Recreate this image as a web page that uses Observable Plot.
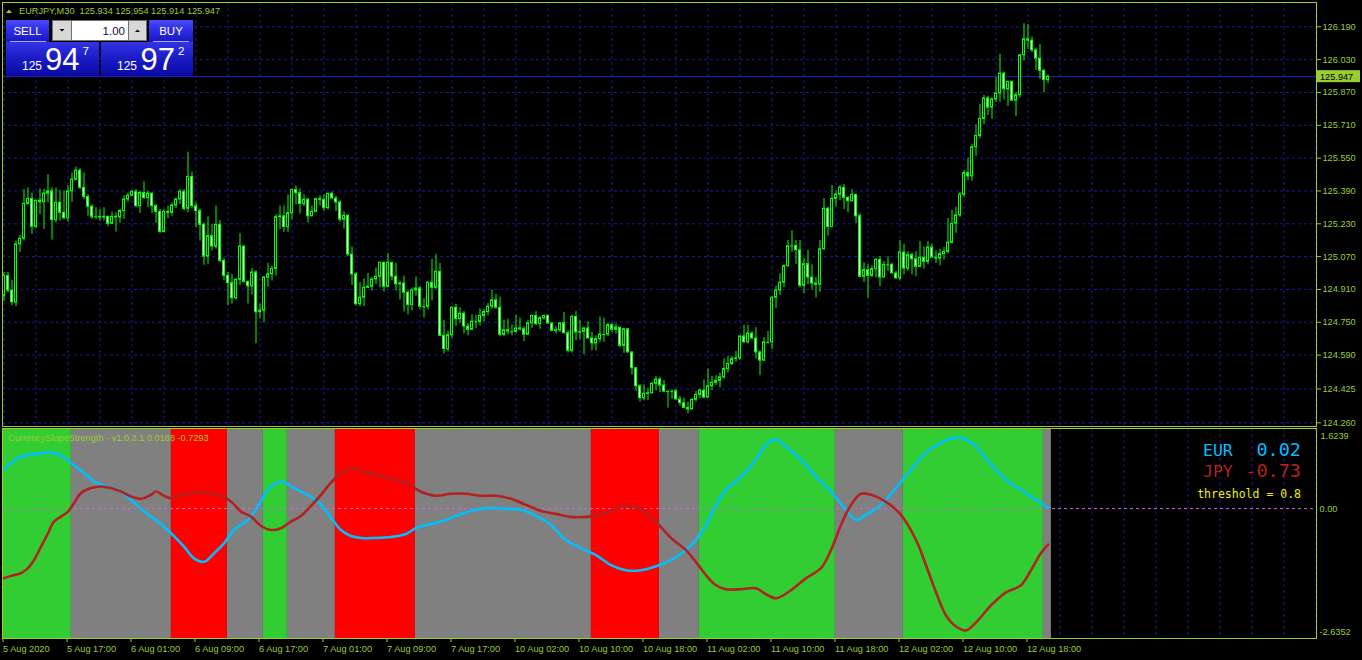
<!DOCTYPE html>
<html><head><meta charset="utf-8">
<script src="https://cdn.jsdelivr.net/npm/d3@7"></script>
<script src="https://cdn.jsdelivr.net/npm/@observablehq/plot@0.6"></script>
<style>
body{margin:0;background:#000;}
#wrap{position:relative;width:1362px;height:660px;background:#000;overflow:hidden;}
#top,#bot{position:absolute;left:0;}
#top{top:0}
#bot{top:427px}
</style></head><body><div id="wrap"><div id="top"></div><div id="bot"></div></div>
<script>
// ---------- DATA ----------
const symbol = "EURJPY,M30";
const ohlcNow = ["125.934", "125.954", "125.914", "125.947"];
const firstOpen = 124.879;
const closes = [
124.976,124.904,124.847,125.130,125.157,125.327,125.351,125.215,125.343,125.335,
125.377,125.388,125.248,125.332,125.283,125.257,125.388,125.445,125.489,125.405,
125.361,125.313,125.264,125.264,125.261,125.264,125.230,125.264,125.261,125.292,
125.348,125.367,125.385,125.316,125.380,125.355,125.377,125.316,125.288,125.190,
125.288,125.283,125.319,125.348,125.385,125.303,125.458,125.316,125.292,125.225,
125.070,125.170,125.119,125.225,125.049,124.976,124.941,124.867,124.957,125.119,
124.947,124.925,124.993,124.799,124.807,124.968,124.984,125.010,125.262,125.266,
125.214,125.282,125.395,125.379,125.326,125.347,125.266,125.288,125.350,125.347,
125.306,125.376,125.353,125.334,125.250,125.269,125.080,124.983,124.838,124.870,
124.918,124.923,124.959,124.972,125.040,124.923,125.040,124.972,124.935,124.939,
124.894,124.834,124.905,124.915,124.826,124.826,124.943,124.918,124.996,124.684,
124.619,124.687,124.821,124.765,124.792,124.729,124.713,124.753,124.752,124.781,
124.800,124.826,124.857,124.821,124.689,124.711,124.705,124.703,124.720,124.716,
124.689,124.745,124.781,124.741,124.770,124.781,124.744,124.708,124.711,124.745,
124.697,124.611,124.776,124.700,124.703,124.720,124.671,124.647,124.668,124.690,
124.690,124.736,124.713,124.724,124.635,124.716,124.603,124.526,124.438,124.380,
124.401,124.404,124.450,124.471,124.442,124.412,124.412,124.414,124.374,124.356,
124.333,124.325,124.372,124.396,124.417,124.383,124.438,124.455,124.464,124.482,
124.522,124.547,124.571,124.574,124.681,124.652,124.695,124.671,124.603,124.563,
124.652,124.652,124.870,124.905,124.943,125.023,125.120,125.122,125.101,124.928,
125.033,124.968,124.939,124.933,125.106,125.303,125.214,125.351,125.372,125.405,
125.356,125.340,125.371,125.267,124.972,125.004,124.976,125.009,125.054,124.968,
125.030,125.030,124.988,124.964,125.090,125.012,125.077,125.057,125.020,125.065,
125.044,125.114,125.065,125.061,125.082,125.093,125.138,125.230,125.271,125.372,
125.477,125.461,125.603,125.658,125.741,125.841,125.796,125.836,125.865,125.962,
125.885,125.922,125.830,125.857,126.051,126.129,126.122,126.075,126.035,125.975,
125.930,125.947];
const highs = [
124.993,124.993,124.955,125.146,125.173,125.397,125.405,125.380,125.343,125.400,
125.397,125.469,125.405,125.405,125.392,125.389,125.416,125.477,125.506,125.498,
125.477,125.372,125.324,125.308,125.300,125.308,125.267,125.287,125.283,125.300,
125.367,125.380,125.393,125.397,125.389,125.435,125.389,125.380,125.324,125.300,
125.300,125.316,125.332,125.356,125.397,125.397,125.579,125.482,125.332,125.300,
125.235,125.264,125.227,125.316,125.246,125.060,124.993,124.984,124.963,125.183,
125.125,124.952,125.012,125.001,124.839,124.973,125.038,125.023,125.274,125.317,
125.317,125.371,125.398,125.414,125.400,125.371,125.355,125.317,125.355,125.366,
125.371,125.379,125.385,125.363,125.343,125.288,125.274,125.117,124.994,124.943,
124.962,124.988,124.967,125.015,125.043,125.043,125.085,125.040,125.036,124.951,
124.975,124.907,124.918,124.970,124.923,124.865,124.947,125.056,125.080,125.036,
124.760,124.707,124.825,124.838,124.821,124.802,124.745,124.786,124.784,124.816,
124.813,124.841,124.907,124.886,124.873,124.760,124.765,124.736,124.784,124.770,
124.729,124.760,124.786,124.802,124.778,124.786,124.786,124.749,124.729,124.745,
124.797,124.708,124.784,124.802,124.760,124.724,124.753,124.700,124.684,124.775,
124.770,124.745,124.745,124.741,124.724,124.721,124.713,124.606,124.529,124.445,
124.445,124.429,124.458,124.487,124.482,124.466,124.417,124.421,124.422,124.388,
124.380,124.361,124.377,124.413,124.425,124.469,124.522,124.487,124.490,124.503,
124.571,124.584,124.584,124.608,124.684,124.736,124.736,124.703,124.724,124.611,
124.676,124.705,124.873,124.926,124.986,125.031,125.149,125.196,125.148,125.149,
125.062,125.101,125.030,124.968,125.149,125.353,125.311,125.416,125.389,125.416,
125.421,125.364,125.397,125.372,125.279,125.041,125.033,125.025,125.062,125.070,
125.046,125.069,125.038,124.999,125.149,125.130,125.094,125.086,125.094,125.143,
125.117,125.143,125.130,125.098,125.106,125.114,125.256,125.295,125.311,125.384,
125.489,125.550,125.618,125.712,125.812,125.857,125.852,125.844,125.943,126.056,
125.970,125.925,125.925,125.870,126.056,126.205,126.201,126.140,126.087,126.103,
125.983,125.954];
const lows = [
124.850,124.892,124.831,124.826,125.089,125.146,125.319,125.178,125.206,125.275,
125.203,125.332,125.151,125.235,125.243,125.248,125.238,125.335,125.437,125.397,
125.348,125.267,125.251,125.251,125.243,125.243,125.216,125.227,125.190,125.232,
125.251,125.335,125.361,125.308,125.280,125.348,125.308,125.280,125.232,125.183,
125.186,125.254,125.267,125.303,125.324,125.292,125.283,125.303,125.211,125.146,
125.028,125.033,125.098,125.106,125.041,124.952,124.831,124.839,124.858,124.928,
124.941,124.839,124.883,124.645,124.766,124.747,124.920,124.951,124.975,125.201,
125.188,125.188,125.250,125.322,125.277,125.314,125.233,125.272,125.314,125.317,
125.290,125.298,125.350,125.290,125.237,125.204,125.069,124.930,124.829,124.826,
124.826,124.913,124.902,124.934,124.918,124.897,124.918,124.951,124.902,124.859,
124.800,124.786,124.805,124.878,124.813,124.771,124.810,124.854,124.910,124.679,
124.595,124.606,124.671,124.729,124.745,124.692,124.684,124.713,124.720,124.732,
124.753,124.781,124.813,124.813,124.679,124.679,124.689,124.684,124.697,124.708,
124.655,124.689,124.720,124.732,124.716,124.762,124.741,124.705,124.692,124.700,
124.692,124.600,124.600,124.660,124.665,124.592,124.668,124.611,124.611,124.652,
124.652,124.681,124.700,124.692,124.627,124.598,124.600,124.493,124.413,124.361,
124.369,124.369,124.401,124.417,124.406,124.406,124.332,124.374,124.369,124.341,
124.328,124.304,124.328,124.361,124.377,124.377,124.385,124.417,124.442,124.430,
124.471,124.503,124.539,124.555,124.563,124.648,124.644,124.665,124.571,124.490,
124.558,124.644,124.616,124.818,124.881,124.918,125.020,125.091,125.031,124.917,
124.888,124.933,124.907,124.868,124.896,125.101,125.170,125.211,125.311,125.343,
125.300,125.283,125.337,125.232,124.968,124.944,124.868,124.968,124.965,124.923,
125.004,124.997,124.985,124.960,124.952,124.981,124.999,124.981,124.972,125.017,
125.009,125.030,125.062,125.036,125.025,125.053,125.082,125.130,125.183,125.262,
125.359,125.440,125.437,125.558,125.644,125.712,125.757,125.739,125.822,125.822,
125.833,125.801,125.828,125.752,125.844,126.024,126.080,126.064,125.978,125.935,
125.868,125.914];
const lastPrice = 125.947;
const priceTicks = [126.19,126.03,125.87,125.71,125.55,125.39,125.23,125.07,124.91,124.75,124.59,124.425,124.26];

const timeTickBars = [0,16,32,48,64,80,96,112,128,144,160,176,192,208,224,240,256];
const timeLabels = ["5 Aug 2020","5 Aug 17:00","6 Aug 01:00","6 Aug 09:00","6 Aug 17:00","7 Aug 01:00","7 Aug 09:00","7 Aug 17:00","10 Aug 02:00","10 Aug 10:00","10 Aug 18:00","11 Aug 02:00","11 Aug 10:00","11 Aug 18:00","12 Aug 02:00","12 Aug 10:00","12 Aug 18:00"];

// indicator: CurrencySlopeStrength
const indMax = 1.6239, indMin = -2.6352;
const eurBars = [0,3.5,6.75,10,12.5,14.25,16.75,20,22.5,25,28.5,31.75,35,38.5,41.75,45,47.5,50,52.5,55,57.5,61,63.5,66,69.25,72.5,76.75,79.25,81.75,84.25,86.75,89.25,93,96.75,100.5,103,106.75,110.5,114.25,118,121.75,125.5,129.25,133,136.75,140.5,144.25,148,151.75,155.5,159.25,163,166.75,170.5,173,175.5,178,180.5,184.25,188,190.5,193,195.5,199.25,203,206.75,210.5,213,215.5,219.25,223,226.75,230.5,234.25,238,240.5,243,246.75,250.5,254.25,258,261];
const eurVals = [0.789,1.027,1.094,1.129,1.129,1.074,0.925,0.721,0.550,0.463,0.381,0.177,-0.061,-0.265,-0.501,-0.774,-1.011,-1.080,-0.909,-0.705,-0.434,-0.230,0.041,0.381,0.550,0.416,0.238,0.075,-0.190,-0.434,-0.557,-0.597,-0.597,-0.577,-0.516,-0.393,-0.312,-0.230,-0.108,-0.026,0.014,-0.006,-0.026,-0.149,-0.332,-0.638,-0.801,-0.944,-1.148,-1.250,-1.250,-1.169,-1.045,-0.842,-0.638,-0.332,0.075,0.381,0.646,0.992,1.298,1.400,1.257,0.992,0.646,0.340,-0.026,-0.230,-0.128,0.075,0.422,0.789,1.135,1.339,1.441,1.400,1.257,0.891,0.585,0.381,0.177,0.019];
const jpyBars = [0,1.75,4.25,6,7.5,9.25,11,12.5,14.25,16,17.5,19.25,21.75,24.25,26.75,29.25,31.75,34.25,36.75,38,40,41.75,44.25,48,51.75,54.25,56.75,59.25,61.75,64.25,66.75,69.25,71.75,74.25,76.75,79.25,81.75,84.25,86.75,89.25,93,96.75,100.5,104.25,108,111.75,115.5,119.25,123,126.75,130.5,134.25,138,141.75,145.5,149.25,153,155.5,159.25,163,166.75,170.5,173,175.5,178,180.5,184.25,188,190.5,193,196.75,200.5,204.25,206.75,209.25,211.75,214.25,216.75,220.5,224.25,228,230.5,233,235.5,238,240.5,243,246.75,250.5,254.25,256.75,259.25,261];
const jpyVals = [-1.413,-1.365,-1.310,-1.208,-1.045,-0.774,-0.501,-0.265,-0.163,-0.061,0.110,0.314,0.416,0.448,0.416,0.346,0.245,0.198,0.279,0.346,0.259,0.212,0.279,0.326,0.314,0.259,0.143,-0.061,-0.163,-0.353,-0.434,-0.399,-0.265,-0.149,0.055,0.279,0.524,0.728,0.809,0.768,0.687,0.605,0.524,0.340,0.259,0.300,0.300,0.259,0.259,0.198,0.075,-0.047,-0.108,-0.169,-0.169,-0.128,-0.006,0.055,-0.026,-0.271,-0.597,-0.842,-1.086,-1.351,-1.555,-1.636,-1.636,-1.616,-1.738,-1.820,-1.657,-1.413,-1.208,-0.842,-0.332,0.075,0.300,0.279,0.137,-0.128,-0.638,-1.148,-1.698,-2.166,-2.391,-2.472,-2.309,-1.962,-1.698,-1.555,-1.249,-0.903,-0.730];
const bandStarts = [0,17,42,56,65,71,83,103,147,164,174,208,225,260];
const bandStates = ["buy","neutral","sell","neutral","buy","neutral","sell","neutral","sell","neutral","buy","neutral","buy","neutral"];
const bandEnd = 262;
const threshold = 0.8;
const indName = "CurrencySlopeStrength - v1.0.3.1 0.0188 -0.7293";

// ---------- BUILD ----------
const C = "#9acd32", GRID = "#1a1aa0", LIME = "#00ff00";
const SANS = "'Liberation Sans', Arial, sans-serif";
const MONO = "'DejaVu Sans Mono', monospace";
const xDomain = [-0.375, 328.125];
const gridBars = d3.range(0, 329, 8);

const candles = closes.map((c, i) => {
  const o = i ? closes[i - 1] : firstOpen;
  return {i, o, c, h: Math.max(highs[i], o, c), l: Math.min(lows[i], o, c)};
});
const body = d => ({x1: d => d.i - 0.25, x2: d => d.i + 0.25, y1: "o", y2: "c"});
const bodies = candles.filter(d => Math.abs(d.c - d.o) >= 0.003);
const dojis = candles.filter(d => Math.abs(d.c - d.o) < 0.003);

const plotStyle = {background: "transparent", color: C, fontFamily: SANS, fontSize: "9.2px"};

const topPlot = Plot.plot({
  width: 1362, height: 427,
  marginTop: 2, marginBottom: 1, marginLeft: 2, marginRight: 46,
  x: {domain: xDomain, axis: null},
  y: {domain: [124.2421, 126.3084], label: null},
  style: plotStyle,
  marks: [
    Plot.ruleX(gridBars, {stroke: GRID, strokeDasharray: "3,3"}),
    Plot.ruleY(priceTicks, {stroke: GRID, strokeDasharray: "3,3"}),
    Plot.ruleY([lastPrice], {stroke: "#2222c8"}),
    Plot.ruleX(candles, {x: "i", y1: "l", y2: "h", stroke: LIME}),
    Plot.rect(bodies.filter(d => d.c > d.o), {x1: d => d.i - 0.25, x2: d => d.i + 0.25, y1: "o", y2: "c", fill: "black", stroke: LIME}),
    Plot.rect(bodies.filter(d => d.c < d.o), {x1: d => d.i - 0.25, x2: d => d.i + 0.25, y1: "o", y2: "c", fill: "white", stroke: LIME}),
    Plot.ruleY(dojis, {x1: d => d.i - 0.375, x2: d => d.i + 0.375, y: "c", stroke: LIME}),
    Plot.axisY(priceTicks, {anchor: "right", tickSize: 4, tickPadding: 2, tickFormat: d => d.toFixed(3), label: null}),
    Plot.frame({stroke: C})
  ]
});
document.getElementById("top").append(topPlot);

const bands = bandStarts.map((s, k) => ({start: s, end: k + 1 < bandStarts.length ? bandStarts[k + 1] : bandEnd, state: bandStates[k]}));
const eur = eurBars.map((b, k) => ({i: b, v: eurVals[k]}));
const jpy = jpyBars.map((b, k) => ({i: b, v: jpyVals[k]}));
const labelMap = new Map(timeTickBars.map((b, k) => [b, timeLabels[k]]));

const botPlot = Plot.plot({
  width: 1362, height: 233,
  marginTop: 1, marginBottom: 22, marginLeft: 2, marginRight: 46,
  x: {domain: xDomain, label: null},
  y: {domain: [indMin, indMax], label: null},
  color: {domain: ["buy", "neutral", "sell"], range: ["#32cd32", "#808080", "#ff0000"]},
  style: plotStyle,
  marks: [
    Plot.ruleX(gridBars, {stroke: GRID, strokeDasharray: "3,3"}),
    Plot.rect(bands, {x1: d => d.start - 0.15, x2: d => d.end - 0.15, fill: "state"}),
    Plot.ruleY([0], {stroke: "#c86ad8", strokeDasharray: "3,3"}),
    Plot.line(eur, {x: "i", y: "v", stroke: "#00bfff", strokeWidth: 2.6, curve: "catmull-rom"}),
    Plot.line(jpy, {x: "i", y: "v", stroke: "#b22222", strokeWidth: 2.6, curve: "catmull-rom"}),
    Plot.axisX(timeTickBars, {tickSize: 4, tickPadding: 3, textAnchor: "start", dx: -1, tickFormat: d => labelMap.get(d), label: null}),
    Plot.axisY([0], {anchor: "right", tickSize: 0, tickPadding: 3, tickFormat: d => d.toFixed(2), label: null}),
    Plot.text([indMax], {x: () => xDomain[1], y: d => d, text: d => d.toFixed(4), dx: 4, dy: 8, textAnchor: "start", fill: C}),
    Plot.text([indMin], {x: () => xDomain[1], y: d => d, text: d => d.toFixed(4), dx: 3, dy: -6, textAnchor: "start", fill: C}),
    Plot.frame({stroke: C})
  ]
});
document.getElementById("bot").append(botPlot);

// ---------- OVERLAY (title, trade panel, labels) ----------
const svg = d3.select("#wrap").append("svg")
  .attr("width", 1362).attr("height", 660)
  .style("position", "absolute").style("left", "0").style("top", "0");
const defs = svg.append("defs");
function grad(id, stops) {
  const g = defs.append("linearGradient").attr("id", id).attr("x1", 0).attr("y1", 0).attr("x2", 0).attr("y2", 1);
  stops.forEach(([o, c]) => g.append("stop").attr("offset", o).attr("stop-color", c));
}
grad("btn", [[0, "#4a4af8"], [0.5, "#2c2ce4"], [1, "#1818c4"]]);
grad("pbox", [[0, "#3434e4"], [0.45, "#1c1cc8"], [1, "#0a0aa4"]]);
function txt(x, y, s, o = {}) {
  return svg.append("text").attr("x", x).attr("y", y).text(s)
    .attr("font-family", o.family || SANS).attr("font-size", o.size || 9.2)
    .attr("fill", o.fill || C).attr("text-anchor", o.anchor || "start")
    .style("white-space", "pre");
}
function rect(x, y, w, h, fill, stroke) {
  const r = svg.append("rect").attr("x", x).attr("y", y).attr("width", w).attr("height", h).attr("fill", fill);
  if (stroke) r.attr("stroke", stroke);
  return r;
}
// title
svg.append("path").attr("d", "M6,13 L12,13 L9,9.5 Z").attr("fill", C);
txt(19, 14, symbol + "  " + ohlcNow.join(" "));

// SELL / BUY buttons
rect(6, 20, 43, 22, "url(#btn)");
svg.append("line").attr("x1", 10).attr("x2", 46).attr("y1", 41.5).attr("y2", 41.5).attr("stroke", "#a8a8e8");
txt(27.5, 35, "SELL", {fill: "white", size: 11.5, anchor: "middle"});
rect(149, 20, 44, 22, "url(#btn)");
svg.append("line").attr("x1", 153).attr("x2", 189).attr("y1", 41.5).attr("y2", 41.5).attr("stroke", "#a8a8e8");
txt(171, 35, "BUY", {fill: "white", size: 11.5, anchor: "middle"});
// lot spinner
rect(52, 20, 95, 21, "#707070");
rect(53, 21, 18, 19, "#d8d8d8");
rect(72, 21, 56, 19, "#ffffff");
rect(129, 21, 17, 19, "#d8d8d8");
svg.append("path").attr("d", "M59.5,29 L64.5,29 L62,31.5 Z").attr("fill", "#000");
svg.append("path").attr("d", "M135,32 L140,32 L137.5,29.5 Z").attr("fill", "#000");
txt(125, 35, "1.00", {fill: "#101040", size: 11.5, anchor: "end"});
// price boxes
rect(6, 42, 93, 34, "url(#pbox)");
rect(101, 42, 92, 34, "url(#pbox)");
const bidStr = "125.947", askStr = "125.972";
txt(22, 70, bidStr.slice(0, 3), {fill: "white", size: 12});
txt(45, 70, bidStr.slice(4, 6), {fill: "white", size: 31});
txt(82.5, 55, bidStr.slice(6), {fill: "white", size: 11.6});
txt(117, 70, askStr.slice(0, 3), {fill: "white", size: 12});
txt(140.5, 70, askStr.slice(4, 6), {fill: "white", size: 31});
txt(178, 55, askStr.slice(6), {fill: "white", size: 11.6});

// current price tag on the axis
const py = topPlot.scale("y").apply(lastPrice);
rect(1317, py - 6, 43, 12, C);
txt(1320, py + 3.4, lastPrice.toFixed(3), {fill: "#000000"});

// indicator name
txt(8, 441, indName);
// strength readout
const eurLast = eurVals[eurVals.length - 1], jpyLast = jpyVals[jpyVals.length - 1];
txt(1203, 456, "EUR", {family: MONO, size: 16.5, fill: "#00bfff"});
txt(1301, 456, eurLast.toFixed(2), {family: MONO, size: 18.5, fill: "#00bfff", anchor: "end"});
txt(1203, 476.7, "JPY", {family: MONO, size: 16.5, fill: "#b22222"});
txt(1301, 476.7, jpyLast.toFixed(2), {family: MONO, size: 18.5, fill: "#b22222", anchor: "end"});
txt(1301, 497.5, "threshold = " + threshold, {family: MONO, size: 11.5, fill: "#f0f000", anchor: "end"});
</script>
</body></html>
